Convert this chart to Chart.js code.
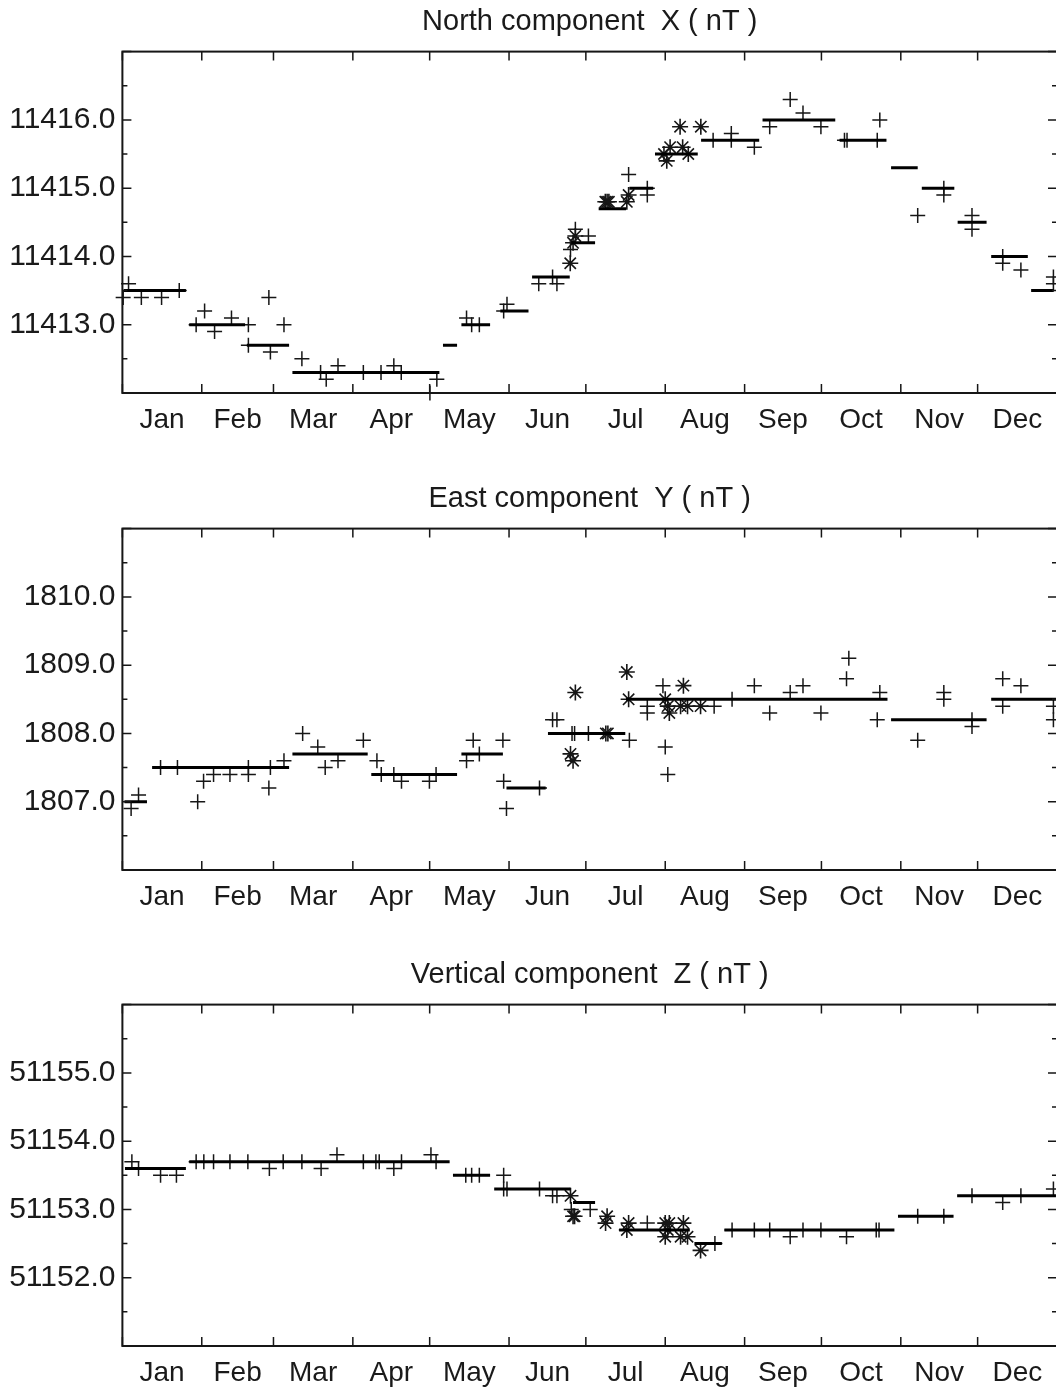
<!DOCTYPE html>
<html>
<head>
<meta charset="utf-8">
<script src="https://cdn.jsdelivr.net/npm/chart.js@4.4.1/dist/chart.umd.min.js"></script>
<style>
  html, body { margin: 0; padding: 0; background: #fff; overflow: hidden; width: 1056px; height: 1391px; }
  .panel { position: absolute; left: 0; }
  #chart-x { top: 0; }
  #chart-y { top: 477px; }
  #chart-z { top: 953px; }
</style>
</head>
<body>
<canvas id="chart-x" class="panel" width="1072" height="445"></canvas>
<canvas id="chart-y" class="panel" width="1072" height="445"></canvas>
<canvas id="chart-z" class="panel" width="1072" height="445"></canvas>
<script>
// months, x axis in day of year
const monthNames = ['Jan', 'Feb', 'Mar', 'Apr', 'May', 'Jun', 'Jul', 'Aug', 'Sep', 'Oct', 'Nov', 'Dec'];
const monthStarts = [0, 31, 59, 90, 120, 151, 181, 212, 243, 273, 304, 334, 365];
const monthMids = [15.5, 45, 74.5, 105, 135.5, 166, 196.5, 227.5, 258, 288.5, 319, 349.5];

// North component X
const xTicks = [11413, 11414, 11415, 11416];
const xPlusDay = [0.3, 2.4, 7.4, 15.3, 22.2, 28.8, 32.1, 36, 42.6, 49.2, 57.2, 49.2, 57.8, 63.1, 70.1, 77.4, 79.6, 84.2, 94.1, 101,
  106, 108.9, 120.1, 122.8, 134.4, 136.4, 139.4, 148.9, 150.2, 162.6, 168, 169.7, 175, 176.9, 182, 197.7, 205, 205, 230.7, 237.8,
  237.8, 246.8, 252.8, 260.8, 265.8, 272.8, 282, 283, 294.8, 295.8, 310.6, 320.8, 320.8, 331.8, 331.8, 343.8, 343.8, 350.9, 363.6, 363.6];
const xPlusVal = [11413.4, 11413.6, 11413.4, 11413.4, 11413.5, 11413.0, 11413.2, 11412.9, 11413.1, 11413.0, 11413.4, 11412.7, 11412.6, 11413.0, 11412.5, 11412.3, 11412.2, 11412.4, 11412.3, 11412.3,
  11412.4, 11412.3, 11412.0, 11412.2, 11413.1, 11413.0, 11413.0, 11413.2, 11413.3, 11413.6, 11413.7, 11413.6, 11414.1, 11414.4, 11414.3, 11415.2, 11415.0, 11414.9, 11415.7, 11415.8,
  11415.7, 11415.6, 11415.9, 11416.3, 11416.1, 11415.9, 11415.7, 11415.7, 11415.7, 11416.0, 11414.6, 11415.0, 11414.9, 11414.6, 11414.4, 11414.0, 11413.9, 11413.8, 11413.7, 11413.6];
const xStarDay = [174.9, 176, 176.9, 188.6, 189.3, 190, 197, 197.7, 211.5, 212.6, 213.9, 218.8, 221, 217.8, 225.9];
const xStarVal = [11413.9, 11414.2, 11414.3, 11414.8, 11414.8, 11414.8, 11414.8, 11414.9, 11415.5, 11415.4, 11415.6, 11415.6, 11415.5, 11415.9, 11415.9];
const xMeanStart = [0.5, 26.1, 48.6, 66.4, 125.2, 132.4, 147.6, 160, 175.3, 186, 198, 208, 226, 250, 280.1, 300.2, 312.2, 326.2, 339.3, 354.9];
const xMeanEnd = [24.8, 47.9, 65.1, 123.8, 130.7, 143.6, 158.6, 174.7, 184.6, 196.7, 207.3, 224.7, 248.7, 278.4, 298.4, 310.6, 324.9, 337.5, 353.6, 363.7];
const xMeanVal = [11413.5, 11413.0, 11412.7, 11412.3, 11412.7, 11413.0, 11413.2, 11413.7, 11414.2, 11414.7, 11415.0, 11415.5, 11415.7, 11416.0, 11415.7, 11415.3, 11415.0, 11414.5, 11414.0, 11413.5];

// East component Y
const yTicks = [1807, 1808, 1809, 1810];
const yPlusDay = [3.4, 6.3, 14.9, 21.5, 29.4, 31.7, 35.6, 42, 49.2, 49.2, 57.2, 57.8, 63.1, 70.4, 76.3, 79.2, 84.2, 94.1, 99.4, 101.1,
  106, 109, 119.9, 122.5, 134.4, 137, 139.4, 148.6, 148.9, 150, 162.9, 168, 169.7, 175.6, 176.6, 182, 198, 205, 205, 211.1,
  212, 213, 231.1, 238.1, 246.8, 252.8, 260.8, 265.8, 272.8, 282.8, 283.7, 294.8, 295.8, 310.6, 320.8, 320.8, 331.8, 331.8, 343.8, 343.8,
  350.9, 363.6, 363.6];
const yPlusVal = [1806.9, 1807.1, 1807.5, 1807.5, 1807.0, 1807.3, 1807.4, 1807.4, 1807.4, 1807.5, 1807.2, 1807.5, 1807.6, 1808.0, 1807.8, 1807.5, 1807.6, 1807.9, 1807.6, 1807.4,
  1807.4, 1807.3, 1807.3, 1807.4, 1807.6, 1807.9, 1807.7, 1807.9, 1807.3, 1806.9, 1807.2, 1808.2, 1808.2, 1808.0, 1808.0, 1808.0, 1807.9, 1808.4, 1808.3, 1808.7,
  1807.8, 1807.4, 1808.4, 1808.5, 1808.7, 1808.3, 1808.6, 1808.7, 1808.3, 1808.8, 1809.1, 1808.2, 1808.6, 1807.9, 1808.6, 1808.5, 1808.2, 1808.1, 1808.8, 1808.4,
  1808.7, 1808.4, 1808.2];
const yStarDay = [175, 176, 176.9, 188.8, 189.6, 197, 197.7, 212, 213, 213.6, 219.1, 218, 220.7, 225.8];
const yStarVal = [1807.7, 1807.6, 1808.6, 1808.0, 1808.0, 1808.9, 1808.5, 1808.5, 1808.4, 1808.3, 1808.7, 1808.4, 1808.4, 1808.4];
const yMeanStart = [0.8, 11.6, 66.4, 97.2, 132.4, 150, 166.2, 196.7, 300.2, 339.3];
const yMeanEnd = [9.6, 65.1, 95.8, 130.7, 148.6, 165.3, 196.4, 298.8, 337.5, 364.6];
const yMeanVal = [1807.0, 1807.5, 1807.7, 1807.4, 1807.7, 1807.2, 1808.0, 1808.5, 1808.2, 1808.5];

// Vertical component Z
const zTicks = [51152, 51153, 51154, 51155];
const zPlusDay = [3.7, 6.3, 14.9, 21.1, 28.8, 31.8, 35.6, 42, 49, 57.4, 62.8, 70.1, 77.6, 83.8, 94.1, 99, 100.3, 106, 109, 120.5,
  122.5, 134.1, 136.4, 139.4, 148.9, 148.9, 150.2, 162.9, 168, 169.7, 175.3, 182.7, 205, 231.4, 238.1, 246.8, 252.8, 260.8, 265.8, 272.8,
  282.8, 294.4, 295.5, 310.6, 320.8, 331.8, 343.8, 350.9, 363.6];
const zPlusVal = [51153.7, 51153.6, 51153.5, 51153.5, 51153.7, 51153.7, 51153.7, 51153.7, 51153.7, 51153.6, 51153.7, 51153.7, 51153.6, 51153.8, 51153.7, 51153.7, 51153.7, 51153.6, 51153.7, 51153.8,
  51153.7, 51153.5, 51153.5, 51153.5, 51153.5, 51153.3, 51153.3, 51153.3, 51153.2, 51153.2, 51153.0, 51153.0, 51152.8, 51152.5, 51152.7, 51152.7, 51152.7, 51152.6, 51152.7, 51152.7,
  51152.6, 51152.7, 51152.7, 51152.9, 51152.9, 51153.2, 51153.1, 51153.2, 51153.3];
const zStarDay = [175, 176, 176.6, 188.7, 189.3, 197, 197.7, 212, 212, 213, 213.6, 218, 219.1, 220.7, 225.8];
const zStarVal = [51153.2, 51152.9, 51152.9, 51152.8, 51152.9, 51152.7, 51152.8, 51152.8, 51152.6, 51152.7, 51152.8, 51152.6, 51152.8, 51152.6, 51152.4];
const zMeanStart = [1, 26.1, 129.1, 145.2, 176, 194, 223.4, 235.1, 302.9, 326];
const zMeanEnd = [24.8, 127.8, 143.6, 175, 184.6, 221.6, 234.1, 301.5, 324.6, 364.6];
const zMeanVal = [51153.6, 51153.7, 51153.5, 51153.3, 51153.1, 51152.7, 51152.5, 51152.7, 51152.9, 51153.2];

Chart.defaults.font.family = '"Liberation Sans", Arial, sans-serif';
Chart.defaults.font.size = 28;
Chart.defaults.color = '#1a1a1a';

const ink = '#161616';

// box round the plot, ticks pointing inwards on all four sides
const frameTicks = {
  id: 'frameTicks',
  afterDatasetsDraw(chart) {
    const { ctx, chartArea: a, scales: { x, y } } = chart;
    ctx.save();
    ctx.strokeStyle = ink;
    ctx.lineWidth = 1.5;
    ctx.beginPath();
    monthStarts.forEach(d => {
      const px = x.getPixelForValue(d);
      ctx.moveTo(px, a.top); ctx.lineTo(px, a.top + 9);
      ctx.moveTo(px, a.bottom); ctx.lineTo(px, a.bottom - 9);
    });
    const steps = Math.round((y.max - y.min) * 2);
    for (let k = 0; k <= steps; k++) {
      const py = y.getPixelForValue(y.min + k / 2);
      const len = k % 2 === 0 ? 9 : 5;
      ctx.moveTo(a.left, py); ctx.lineTo(a.left + len, py);
      ctx.moveTo(a.right, py); ctx.lineTo(a.right - len, py);
    }
    ctx.stroke();
    ctx.lineWidth = 2;
    ctx.strokeRect(a.left, a.top, a.right - a.left, a.bottom - a.top);
    ctx.restore();
  }
};

function toPoints(days, vals) {
  return days.map((d, i) => ({ x: d, y: vals[i] }));
}

function meanSegments(starts, ends, vals) {
  const pts = [];
  starts.forEach((s, i) => {
    pts.push({ x: s, y: vals[i] }, { x: ends[i], y: vals[i] }, { x: ends[i], y: null });
  });
  return pts;
}

function createPanel(id, title, yMin, yMax, ticks, plusDay, plusVal, starDay, starVal, meanStart, meanEnd, meanVal) {
  const ctx = document.getElementById(id).getContext('2d');
  return new Chart(ctx, {
    type: 'scatter',
    data: {
      datasets: [
        {
          label: 'means',
          data: meanSegments(meanStart, meanEnd, meanVal),
          showLine: true,
          spanGaps: false,
          borderColor: '#000',
          borderWidth: 3,
          pointRadius: 0,
          clip: false
        },
        {
          label: 'plus',
          data: toPoints(plusDay, plusVal),
          pointStyle: 'cross',
          pointRadius: 7.5,
          borderColor: ink,
          borderWidth: 1.5,
          clip: false
        },
        {
          label: 'star',
          data: toPoints(starDay, starVal),
          pointStyle: 'star',
          pointRadius: 8,
          borderColor: ink,
          borderWidth: 1.6,
          clip: false
        }
      ]
    },
    options: {
      responsive: false,
      animation: false,
      devicePixelRatio: 1,
      layout: { padding: { left: 0, right: 15, top: 0, bottom: 0 } },
      plugins: {
        legend: { display: false },
        tooltip: { enabled: false },
        title: {
          display: true,
          text: title,
          fullSize: false,
          color: '#1a1a1a',
          font: { size: 29, weight: 'normal', lineHeight: 1.2 },
          padding: { top: 4.5, bottom: 12.3 }
        }
      },
      scales: {
        x: {
          type: 'linear',
          min: 0,
          max: 365,
          grid: { display: false, drawTicks: false },
          border: { display: false },
          afterFit: scale => { scale.height = 52; },
          afterBuildTicks: scale => { scale.ticks = monthMids.map(v => ({ value: v })); },
          ticks: {
            autoSkip: false,
            maxRotation: 0,
            minRotation: 0,
            padding: 10,
            font: { size: 28 },
            callback: (v, i) => monthNames[i]
          }
        },
        y: {
          type: 'linear',
          min: yMin,
          max: yMax,
          grid: { display: false, drawTicks: false },
          border: { display: false },
          afterFit: scale => { scale.width = 122.4; },
          afterBuildTicks: scale => { scale.ticks = ticks.map(v => ({ value: v })); },
          ticks: {
            padding: 7,
            font: { size: 30 },
            callback: v => v.toFixed(1)
          }
        }
      }
    },
    plugins: [frameTicks]
  });
}

createPanel('chart-x', 'North component  X ( nT )', 11412, 11417, xTicks,
  xPlusDay, xPlusVal, xStarDay, xStarVal, xMeanStart, xMeanEnd, xMeanVal);
createPanel('chart-y', 'East component  Y ( nT )', 1806, 1811, yTicks,
  yPlusDay, yPlusVal, yStarDay, yStarVal, yMeanStart, yMeanEnd, yMeanVal);
createPanel('chart-z', 'Vertical component  Z ( nT )', 51151, 51156, zTicks,
  zPlusDay, zPlusVal, zStarDay, zStarVal, zMeanStart, zMeanEnd, zMeanVal);
</script>
</body>
</html>
